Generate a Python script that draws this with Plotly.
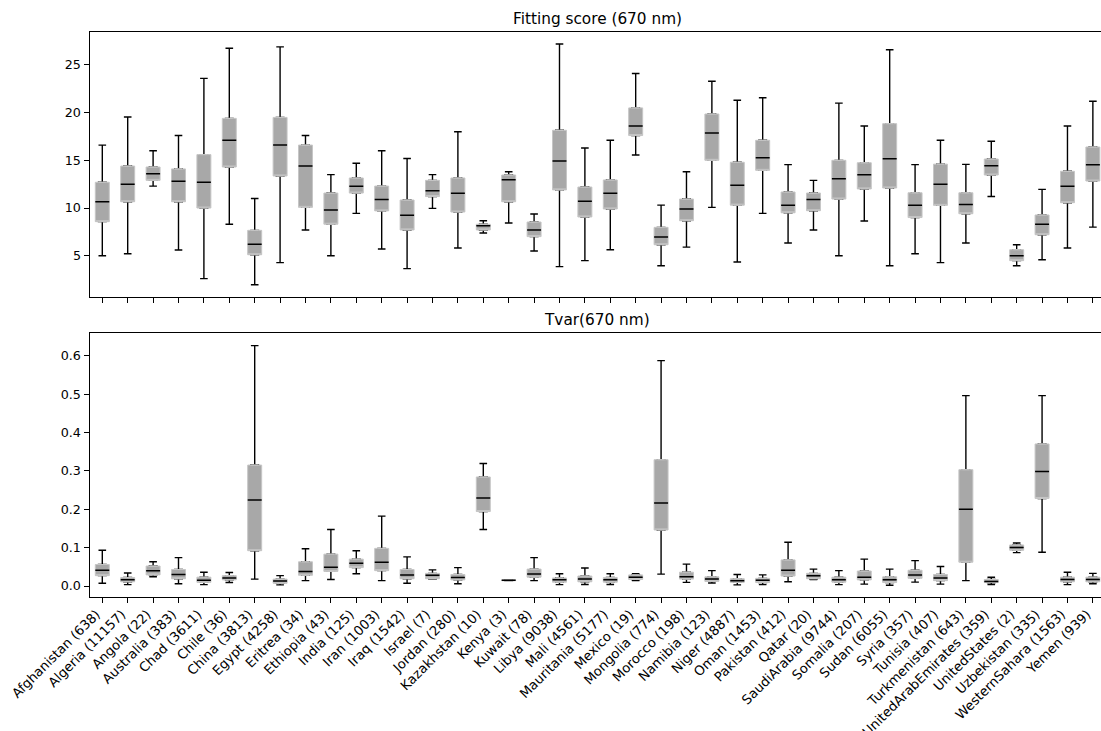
# Fitting score and Tvar per country, box plots with precomputed stats
import plotly.graph_objects as go

countries = [
    "Afghanistan (638)", "Algeria (11157)", "Angola (22)", "Australia (383)", "Chad (3611)",
    "Chile (36)", "China (3813)", "Egypt (4258)", "Eritrea (34)", "Ethiopia (43)",
    "India (125)", "Iran (1003)", "Iraq (1542)", "Israel (7)", "Jordan (280)",
    "Kazakhstan (10)", "Kenya (3)", "Kuwait (78)", "Libya (9038)", "Mali (4561)",
    "Mauritania (5177)", "Mexico (19)", "Mongolia (774)", "Morocco (198)", "Namibia (123)",
    "Niger (4887)", "Oman (1453)", "Pakistan (412)", "Qatar (20)", "SaudiArabia (9744)",
    "Somalia (207)", "Sudan (6055)", "Syria (357)", "Tunisia (407)", "Turkmenistan (643)",
    "UnitedArabEmirates (359)", "UnitedStates (2)", "Uzbekistan (335)", "WesternSahara (1563)", "Yemen (939)",
]

# Fitting score (670 nm)
fit_high = [16.6, 19.55, 16.0, 17.6, 23.6, 26.75, 11.0, 26.9, 17.6, 13.5,
            14.7, 16.0, 15.2, 13.5, 18.0, 8.67, 13.8, 9.37, 27.2, 16.3,
            17.1, 24.1, 10.3, 13.8, 23.3, 21.3, 21.57, 14.55, 12.9, 21.0,
            18.6, 26.6, 14.55, 17.1, 14.58, 17.0, 6.15, 11.96, 18.6, 21.2]
fit_q3 = [12.7, 14.4, 14.3, 14.1, 15.6, 19.4, 7.66, 19.5, 16.6, 11.57,
          13.15, 12.3, 10.84, 12.9, 13.15, 8.3, 13.46, 8.53, 18.15, 12.2,
          12.94, 20.5, 7.97, 10.94, 19.86, 14.8, 17.1, 11.68, 11.57, 15.0,
          14.75, 18.85, 11.6, 14.6, 11.6, 15.14, 5.63, 9.27, 13.85, 16.4]
fit_med = [10.66, 12.5, 13.6, 12.8, 12.7, 17.1, 6.2, 16.6, 14.4, 9.8,
           12.27, 10.9, 9.23, 11.8, 11.54, 8.15, 12.97, 7.7, 14.93, 10.7,
           11.54, 18.6, 6.96, 9.9, 17.87, 12.4, 15.28, 10.3, 10.9, 13.08,
           13.5, 15.17, 10.28, 12.48, 10.38, 14.44, 5.0, 8.3, 12.27, 14.55]
fit_q1 = [8.57, 10.66, 12.9, 10.66, 10.0, 14.3, 5.1, 13.36, 10.07, 8.3,
          11.57, 9.7, 7.7, 11.2, 9.58, 7.7, 10.66, 7.0, 11.9, 9.06,
          9.9, 17.6, 6.15, 8.67, 15.0, 10.3, 13.95, 9.5, 9.72, 10.94,
          12.0, 12.1, 9.0, 10.28, 9.4, 13.46, 4.48, 7.2, 10.56, 12.83]
fit_low = [5.0, 5.2, 12.3, 5.6, 2.6, 8.3, 1.96, 4.27, 7.7, 5.0,
           9.44, 5.7, 3.64, 9.96, 5.8, 7.38, 8.43, 5.5, 3.85, 4.48,
           5.63, 15.56, 3.95, 5.9, 10.07, 4.34, 9.44, 6.33, 7.7, 5.0,
           8.64, 3.95, 5.2, 4.27, 6.33, 11.2, 3.95, 4.58, 5.8, 8.0]

# Tvar(670 nm)
tvar_high = [0.093, 0.034, 0.063, 0.074, 0.036, 0.035, 0.626, 0.027, 0.097, 0.147,
             0.092, 0.182, 0.076, 0.042, 0.048, 0.319, 0.016, 0.074, 0.032, 0.047,
             0.032, 0.032, 0.587, 0.057, 0.04, 0.03, 0.029, 0.114, 0.044, 0.04,
             0.07, 0.044, 0.066, 0.051, 0.496, 0.023, 0.112, 0.496, 0.036, 0.033]
tvar_q3 = [0.056, 0.022, 0.052, 0.043, 0.023, 0.027, 0.315, 0.018, 0.063, 0.083,
           0.07, 0.098, 0.043, 0.033, 0.03, 0.284, 0.016, 0.044, 0.021, 0.026,
           0.022, 0.029, 0.329, 0.036, 0.024, 0.019, 0.02, 0.068, 0.033, 0.023,
           0.039, 0.024, 0.041, 0.03, 0.303, 0.017, 0.107, 0.37, 0.023, 0.023]
tvar_med = [0.041, 0.0165, 0.04, 0.03, 0.015, 0.021, 0.224, 0.013, 0.038, 0.049,
            0.059, 0.062, 0.029, 0.028, 0.022, 0.229, 0.015, 0.031, 0.016, 0.018,
            0.0165, 0.023, 0.216, 0.024, 0.018, 0.014, 0.015, 0.041, 0.027, 0.0165,
            0.023, 0.016, 0.029, 0.021, 0.2, 0.012, 0.1, 0.298, 0.017, 0.017]
tvar_q1 = [0.027, 0.011, 0.029, 0.019, 0.0095, 0.016, 0.092, 0.007, 0.028, 0.038,
           0.048, 0.04, 0.019, 0.019, 0.016, 0.194, 0.014, 0.023, 0.01, 0.011,
           0.01, 0.017, 0.146, 0.018, 0.012, 0.0095, 0.009, 0.026, 0.019, 0.01,
           0.016, 0.009, 0.02, 0.014, 0.062, 0.009, 0.093, 0.228, 0.011, 0.011]
tvar_low = [0.007, 0.0035, 0.024, 0.006, 0.0035, 0.009, 0.018, 0.003, 0.014, 0.017,
            0.032, 0.014, 0.007, 0.018, 0.006, 0.147, 0.014, 0.014, 0.0035, 0.004,
            0.004, 0.014, 0.031, 0.0095, 0.008, 0.003, 0.0035, 0.011, 0.017, 0.0035,
            0.005, 0.002, 0.01, 0.005, 0.014, 0.004, 0.087, 0.088, 0.0035, 0.006]

WIDTH, HEIGHT = 1101, 731
BOX_FILL = "#a8a8a8"
BOX_EDGE = "#c6c6c6"
FONT = "DejaVu Sans"


def add_panel(fig, xaxis, yaxis, low, q1, med, q3, high):
    common = dict(x=countries, xaxis=xaxis, yaxis=yaxis, boxpoints=False,
                  showlegend=False, hoverinfo="skip")
    # whiskers: a thin black box, hidden by the grey one on top of it
    fig.add_trace(go.Box(q1=q1, median=med, q3=q3, lowerfence=low, upperfence=high,
                         width=0.3, whiskerwidth=1, line=dict(color="black", width=1.4),
                         fillcolor="black", **common))
    fig.add_trace(go.Box(q1=q1, median=q1, q3=q3, lowerfence=q1, upperfence=q3,
                         width=0.55, line=dict(color=BOX_EDGE, width=1),
                         fillcolor=BOX_FILL, **common))
    # median as a flat box
    fig.add_trace(go.Box(q1=med, median=med, q3=med, lowerfence=med, upperfence=med,
                         width=0.55, line=dict(color="black", width=1.5), **common))


fig = go.Figure()
add_panel(fig, "x", "y", fit_low, fit_q1, fit_med, fit_q3, fit_high)
add_panel(fig, "x2", "y2", tvar_low, tvar_q1, tvar_med, tvar_q3, tvar_high)

xaxis_common = dict(
    domain=[89.6 / WIDTH, 1], type="category", range=[-0.5, 39.32], automargin=False,
    categoryorder="array", categoryarray=countries,
    tickmode="array", tickvals=countries,
    ticks="outside", ticklen=5, tickwidth=1, tickcolor="black",
    showline=True, linecolor="black", linewidth=1.2, mirror=True,
    showgrid=False, zeroline=False,
)
yaxis_common = dict(
    ticks="outside", ticklen=5, tickwidth=1, tickcolor="black", automargin=False,
    showline=True, linecolor="black", linewidth=1.2,
    showgrid=False, zeroline=False,
)

fig.update_layout(
    width=WIDTH, height=HEIGHT,
    margin=dict(l=0, r=0, t=0, b=0),
    paper_bgcolor="white", plot_bgcolor="white",
    boxmode="overlay",
    font=dict(family=FONT, size=12.7, color="black"),
    xaxis=dict(anchor="y", showticklabels=False, **xaxis_common),
    xaxis2=dict(anchor="y2", tickangle=-45, ticklabelshift=-6, ticklabelstandoff=-2,
                tickfont=dict(size=13.2), **xaxis_common),
    yaxis=dict(anchor="x", domain=[1 - 296.7 / HEIGHT, 1 - 31.7 / HEIGHT], range=[0.7, 28.49],
               tickvals=[5, 10, 15, 20, 25], **yaxis_common),
    yaxis2=dict(anchor="x2", domain=[1 - 597.3 / HEIGHT, 1 - 333 / HEIGHT], range=[-0.0294, 0.659],
                tickvals=[0, 0.1, 0.2, 0.3, 0.4, 0.5, 0.6], tickformat=".1f", **yaxis_common),
    annotations=[
        dict(text="Fitting score (670 nm)", xref="paper", yref="paper",
             x=597 / WIDTH, y=1 - 29.5 / HEIGHT, xanchor="center", yanchor="bottom",
             showarrow=False, font=dict(size=15.3)),
        dict(text="Tvar(670 nm)", xref="paper", yref="paper",
             x=597 / WIDTH, y=1 - 330.5 / HEIGHT, xanchor="center", yanchor="bottom",
             showarrow=False, font=dict(size=15.3)),
    ],
)

fig.write_html("out.html", config=dict(displayModeBar=False),
               post_script="document.body.style.margin='0';")
